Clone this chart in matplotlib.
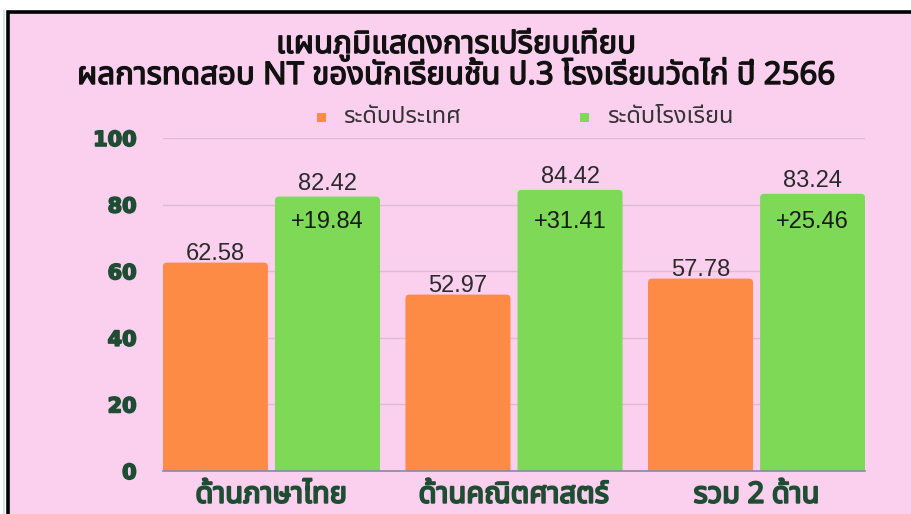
import matplotlib
matplotlib.use('Agg')
import matplotlib.pyplot as plt
from matplotlib import font_manager as fm
from matplotlib.ft2font import FT2Font
from matplotlib.patches import Rectangle, FancyBboxPatch
import matplotlib.patheffects as pe
import numpy as np

# data
categories = ['ด้านภาษาไทย', 'ด้านคณิตศาสตร์', 'รวม 2 ด้าน']
national = [62.58, 52.97, 57.78]
school = [82.42, 84.42, 83.24]
diffs = ['+19.84', '+31.41', '+25.46']
series_names = ['ระดับประเทศ', 'ระดับโรงเรียน']
title_lines = ['แผนภูมิแสดงการเปรียบเทียบ',
               'ผลการทดสอบ NT ของนักเรียนชั้น ป.3 โรงเรียนวัดไก่ ปี 2566']
yticks = [0, 20, 40, 60, 80, 100]


def find_thai_fonts():
    found = []
    for f in fm.fontManager.ttflist:
        try:
            cmap = FT2Font(f.fname).get_charmap()
        except Exception:
            continue
        if 0x0E01 in cmap and f.name not in found:
            found.append(f.name)
    return found


thai = find_thai_fonts()
prefer = [n for n in ['Noto Sans Thai', 'Noto Sans Thai Looped', 'Loma',
                      'Garuda', 'Tlwg Typo', 'Sarabun'] if n in thai]
fams = prefer + [n for n in thai if n not in prefer] + ['DejaVu Sans']
plt.rcParams['font.family'] = fams


def fake_bold(color, lw=1.0):
    return [pe.withStroke(linewidth=lw, foreground=color)]


pink = '#fbd0ef'
orange = '#fd8a45'
green = '#7ed957'
dkgreen = '#1e4d33'
numfont = ['Liberation Sans', 'DejaVu Sans']

fig = plt.figure(figsize=(9.12, 5.14), dpi=100, facecolor='white')
W, H = 912, 514

# pink panel with black border
panel = Rectangle((8 / W, -0.1), 1.2, 1 - 11.5 / H + 0.1,
                  transform=fig.transFigure, facecolor=pink,
                  edgecolor='black', linewidth=2.6, zorder=-2)
fig.patches.append(panel)
fig.patches.append(Rectangle((3 / W, 0), 2.5 / W, 1 - 10 / H,
                             transform=fig.transFigure, zorder=-2,
                             facecolor='#cfe6ea', edgecolor='none'))

ax_w, ax_h = 865 - 163, 471 - 138
ax = fig.add_axes([163 / W, 1 - 471 / H, ax_w / W, ax_h / H])
ax.set_facecolor('none')

x = np.arange(len(categories))
w = 0.433
g = 0.029
xmin, xmax = -0.447, 2.447
ax.set_xlim(xmin, xmax)
ax.set_ylim(0, 100)

# rounded-top bars
px_x = (xmax - xmin) / ax_w
px_y = 100 / ax_h
radius = 4 * px_x


def rounded_bar(xc, v, color):
    p = FancyBboxPatch((xc - w / 2, -3), w, v + 3,
                       boxstyle=f'round,pad=0,rounding_size={radius}',
                       mutation_aspect=px_y / px_x,
                       facecolor=color, edgecolor='none', zorder=3)
    ax.add_patch(p)


for xc, v in zip(x - w / 2 - g / 2, national):
    rounded_bar(xc, v, orange)
    ax.text(xc, v + 0.8, f'{v:.2f}', ha='center', va='baseline',
            fontsize=17, color='#2a2a2a', family=numfont)
for xc, v, d in zip(x + w / 2 + g / 2, school, diffs):
    rounded_bar(xc, v, green)
    ax.text(xc, v + 2.0, f'{v:.2f}', ha='center', va='baseline',
            fontsize=17, color='#2a2a2a', family=numfont)
    ax.text(xc, 74.7, d, ha='center', va='center',
            fontsize=17, color='#1a1a1a', family=numfont)

ax.set_yticks(yticks)
ax.set_yticklabels([str(t) for t in yticks], fontsize=15,
                   fontweight='bold', color=dkgreen, family='DejaVu Sans')
for t in ax.get_yticklabels():
    t.set_path_effects(fake_bold(dkgreen, 1.2))
ax.tick_params(axis='y', length=0, pad=19)
ax.set_xticks(x)
ax.set_xticklabels(categories, fontsize=21, color=dkgreen)
for t in ax.get_xticklabels():
    t.set_path_effects(fake_bold(dkgreen, 1.4))
ax.tick_params(axis='x', length=0, pad=7)
ax.grid(axis='y', color='#dcbdd0', linewidth=1, zorder=0)
for s in ['top', 'right', 'left']:
    ax.spines[s].set_visible(False)
ax.spines['bottom'].set_color('#8a8a9a')
ax.spines['bottom'].set_linewidth(1.2)
ax.spines['bottom'].set_zorder(4)

# title
for i, line in enumerate(title_lines):
    fig.text(456 / W, 1 - (53 + 31 * i) / H, line, ha='center',
             va='baseline', fontsize=22.5, color='#111111',
             path_effects=fake_bold('#111111', 1.0))

# legend
for sx, tx, col, name in [(317, 343, orange, series_names[0]),
                          (580, 607, green, series_names[1])]:
    fig.patches.append(Rectangle((sx / W, 1 - 122 / H), 9 / W, 9 / H,
                                 transform=fig.transFigure,
                                 facecolor=col, edgecolor='none'))
    fig.text(tx / W, 1 - 117 / H, name, ha='left', va='center',
             fontsize=17, color='#333333')

fig.savefig('out.png', dpi=100, facecolor=fig.get_facecolor())
